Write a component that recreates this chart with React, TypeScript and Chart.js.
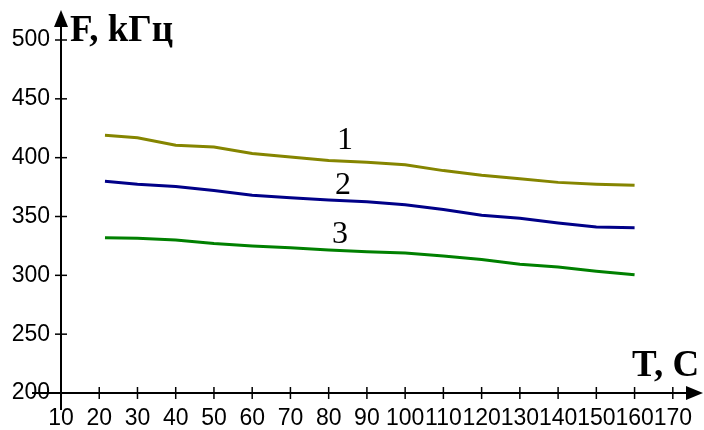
import React, { useEffect, useRef } from "react";
import { Chart, registerables } from "chart.js";

Chart.register(...registerables);

const temps = [21.5, 30, 40, 50, 60, 70, 80, 90, 100, 110, 120, 130, 140, 150, 160];
const series1 = [419, 417, 410.5, 409, 403.5, 400.5, 397.5, 396, 394, 389, 385, 382, 379, 377.5, 376.5];
const series2 = [380, 377.5, 375.5, 372, 368, 366, 364, 362.5, 360, 356, 351, 348.5, 344.5, 341, 340.5];
const series3 = [332, 331.5, 330, 327, 325, 323.5, 321.5, 320, 319, 316.5, 313.5, 309.5, 307, 303.5, 300.5];
const seriesNames = ["1", "2", "3"];
const seriesColors = ["#858500", "#000088", "#008000"];
const xTicks = [10, 20, 30, 40, 50, 60, 70, 80, 90, 100, 110, 120, 130, 140, 150, 160, 170];
const yTicks = [200, 250, 300, 350, 400, 450, 500];
const yTitle = "F, kГц";
const xTitle = "T, C";

const tickFont = { family: "'Liberation Sans Narrow', 'Liberation Sans', sans-serif", size: 23 };

const axesPlugin = {
  id: "axesArrows",
  afterDraw(chart: any) {
    const ctx = chart.ctx;
    const xs = chart.scales.x;
    const ys = chart.scales.y;
    const x0 = xs.getPixelForValue(xTicks[0]);
    const y0 = ys.getPixelForValue(yTicks[0]);
    ctx.save();
    ctx.strokeStyle = "#000";
    ctx.fillStyle = "#000";
    ctx.lineWidth = 2;
    // y axis
    ctx.beginPath();
    ctx.moveTo(x0, 22);
    ctx.lineTo(x0, 410);
    ctx.stroke();
    ctx.beginPath();
    ctx.moveTo(x0, 10);
    ctx.lineTo(x0 - 7, 27);
    ctx.lineTo(x0 + 7, 27);
    ctx.closePath();
    ctx.fill();
    // x axis
    ctx.beginPath();
    ctx.moveTo(32, y0);
    ctx.lineTo(692, y0);
    ctx.stroke();
    ctx.beginPath();
    ctx.moveTo(703, y0);
    ctx.lineTo(686, y0 - 7);
    ctx.lineTo(686, y0 + 7);
    ctx.closePath();
    ctx.fill();
    // tick marks
    ctx.lineWidth = 1.5;
    xTicks.slice(1).forEach((v) => {
      const px = xs.getPixelForValue(v);
      ctx.beginPath();
      ctx.moveTo(px, y0 - 6);
      ctx.lineTo(px, y0 + 6);
      ctx.stroke();
    });
    yTicks.slice(1).forEach((v) => {
      const py = ys.getPixelForValue(v);
      ctx.beginPath();
      ctx.moveTo(x0 - 6, py);
      ctx.lineTo(x0 + 6, py);
      ctx.stroke();
    });
    // titles
    ctx.font = "bold 37px 'Liberation Serif'";
    ctx.textAlign = "left";
    ctx.textBaseline = "alphabetic";
    ctx.fillText(yTitle, x0 + 9, 41);
    ctx.fillText(xTitle, 632, 376);
    // series labels
    ctx.font = "32px 'Liberation Serif'";
    ctx.textAlign = "center";
    ctx.textBaseline = "middle";
    const labelPos = [
      [345, 141],
      [343, 186],
      [340, 235],
    ];
    seriesNames.forEach((n, i) => {
      ctx.fillText(n, labelPos[i][0], labelPos[i][1]);
    });
    ctx.restore();
  },
};

export default function App() {
  const ref = useRef<HTMLCanvasElement>(null);
  useEffect(() => {
    if (!ref.current) return;
    const all = [series1, series2, series3];
    const chart = new Chart(ref.current, {
      type: "line",
      data: {
        datasets: all.map((s, i) => ({
          label: seriesNames[i],
          data: s.map((v, j) => ({ x: temps[j], y: v })),
          borderColor: seriesColors[i],
          borderWidth: 3,
          pointRadius: 0,
          tension: 0,
          fill: false,
        })),
      },
      options: {
        animation: false,
        responsive: false,
        devicePixelRatio: 1,
        layout: { padding: { top: 40, right: 29, left: 0, bottom: 0 } },
        plugins: { legend: { display: false }, tooltip: { enabled: false } },
        scales: {
          x: {
            type: "linear",
            min: xTicks[0],
            max: xTicks[xTicks.length - 1],
            afterFit: (s: any) => {
              s.height = 37;
            },
            afterBuildTicks: (s: any) => {
              s.ticks = xTicks.map((v) => ({ value: v }));
            },
            ticks: {
              color: "#000",
              padding: 12,
              font: tickFont,
              maxRotation: 0,
              autoSkip: false,
            },
            grid: { display: false, drawTicks: false },
            border: { display: false },
          },
          y: {
            type: "linear",
            min: yTicks[0],
            max: yTicks[yTicks.length - 1],
            afterFit: (s: any) => {
              s.width = 61;
            },
            afterBuildTicks: (s: any) => {
              s.ticks = yTicks.map((v) => ({ value: v }));
            },
            ticks: {
              color: "#000",
              padding: 11,
              font: tickFont,
            },
            grid: { display: false, drawTicks: false },
            border: { display: false },
          },
        },
      },
      plugins: [axesPlugin],
    });
    return () => chart.destroy();
  }, []);
  return (
    <div style={{ position: "absolute", left: 0, top: 0, width: 704, height: 430, background: "#fff" }}>
      <canvas ref={ref} width={704} height={430} style={{ width: 704, height: 430 }} />
    </div>
  );
}
